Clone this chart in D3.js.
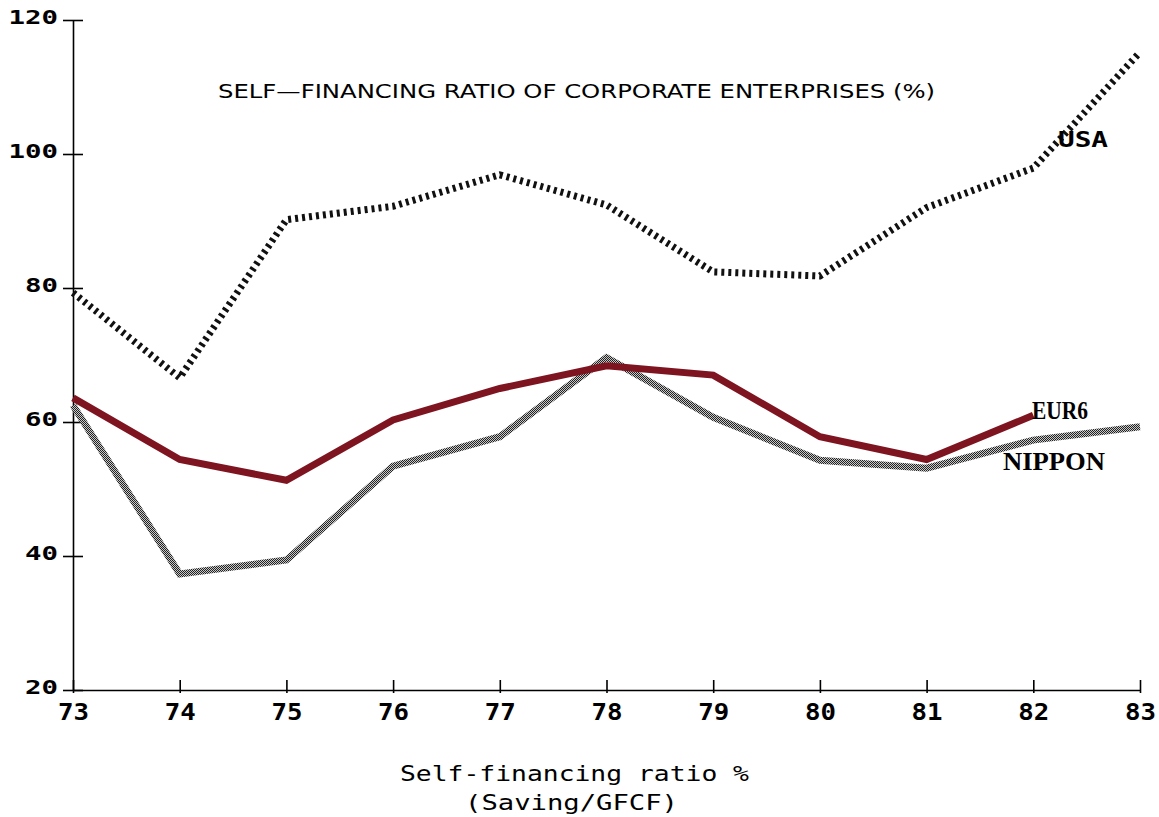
<!DOCTYPE html>
<html>
<head>
<meta charset="utf-8">
<script src="https://cdn.jsdelivr.net/npm/d3@7"></script>
<style>
  body { margin: 0; background: #fff; }
  svg { display: block; }
</style>
</head>
<body>
<div id="chart"></div>
<script>
// years 1973..1983
const years = [73, 74, 75, 76, 77, 78, 79, 80, 81, 82, 83];
const usa = [79.3, 66.6, 90.2, 92.2, 96.9, 92.4, 82.4, 81.8, 92.0, 97.9, 115.2];
const eur6 = [63.6, 54.4, 51.3, 60.3, 65.0, 68.4, 67.0, 57.8, 54.4, 61.0];
const nippon = [62.5, 37.3, 39.4, 53.4, 57.8, 69.6, 60.7, 54.3, 53.1, 57.3, 59.3];
const yTicks = [20, 40, 60, 80, 100, 120];

const W = 1159, H = 817;
const svg = d3.select("#chart").append("svg")
  .attr("width", W)
  .attr("height", H);

// checker texture for the Nippon line
const defs = svg.append("defs");
const pat = defs.append("pattern")
  .attr("id", "checker")
  .attr("width", 2).attr("height", 2)
  .attr("patternUnits", "userSpaceOnUse");
pat.append("rect").attr("width", 2).attr("height", 2).attr("fill", "#c8c8c8");
pat.append("rect").attr("x", 0).attr("y", 0).attr("width", 1).attr("height", 1).attr("fill", "#222");
pat.append("rect").attr("x", 1).attr("y", 1).attr("width", 1).attr("height", 1).attr("fill", "#222");

const x = d3.scaleLinear().domain([73, 83]).range([73, 1140]);
const y = d3.scaleLinear().domain([20, 120]).range([690, 20]);

const mono = "'DejaVu Sans Mono', 'Liberation Mono', monospace";

// y axis
const yAxis = svg.append("g")
  .attr("transform", "translate(" + x(73) + ",0)")
  .call(d3.axisLeft(y).tickValues(yTicks).tickSize(0).tickPadding(15));
yAxis.select(".domain").attr("stroke", "#000").attr("stroke-width", 1.6);
yAxis.selectAll(".tick line").remove();
yAxis.selectAll(".tick").append("line")
  .attr("x1", -10).attr("x2", 10)
  .attr("stroke", "#000").attr("stroke-width", 1.6);
yAxis.selectAll(".tick text")
  .attr("fill", "#000")
  .attr("dy", "0.2em")
  .attr("textLength", d => String(d).length * 16.5)
  .attr("lengthAdjust", "spacingAndGlyphs")
  .style("font-family", mono)
  .style("font-weight", "bold")
  .style("font-size", "19px");

// x axis
const xAxis = svg.append("g")
  .attr("transform", "translate(0," + y(20) + ")")
  .call(d3.axisBottom(x).tickValues(years).tickSize(0).tickPadding(13));
xAxis.select(".domain").attr("stroke", "#000").attr("stroke-width", 1.6);
xAxis.selectAll(".tick line").remove();
xAxis.selectAll(".tick").append("line")
  .attr("y1", -10).attr("y2", 3)
  .attr("stroke", "#000").attr("stroke-width", 1.6);
xAxis.selectAll(".tick text")
  .attr("fill", "#000")
  .attr("dy", "0.75em")
  .attr("textLength", 31)
  .attr("lengthAdjust", "spacingAndGlyphs")
  .style("font-family", mono)
  .style("font-weight", "bold")
  .style("font-size", "23px");

const line = d3.line()
  .x((d, i) => x(years[i]))
  .y(d => y(d));

svg.append("path")
  .datum(nippon)
  .attr("d", line)
  .attr("fill", "none")
  .attr("stroke", "url(#checker)")
  .attr("stroke-width", 7);

svg.append("path")
  .datum(eur6)
  .attr("d", line)
  .attr("fill", "none")
  .attr("stroke", "#7e1420")
  .attr("stroke-width", 7);

svg.append("path")
  .datum(usa)
  .attr("d", line)
  .attr("fill", "none")
  .attr("stroke", "#111")
  .attr("stroke-width", 7)
  .attr("stroke-dasharray", "3 4");

// series labels
svg.append("text")
  .attr("x", 1058).attr("y", 147)
  .attr("textLength", 50)
  .attr("lengthAdjust", "spacingAndGlyphs")
  .style("font-family", mono)
  .style("font-weight", "bold")
  .style("font-size", "21px")
  .text("USA");
svg.append("text")
  .attr("x", 1032).attr("y", 419)
  .attr("textLength", 56)
  .attr("lengthAdjust", "spacingAndGlyphs")
  .style("font-family", "'Liberation Serif', serif")
  .style("font-weight", "bold")
  .style("font-size", "25px")
  .text("EUR6");
svg.append("text")
  .attr("x", 1003).attr("y", 470)
  .attr("textLength", 102)
  .attr("lengthAdjust", "spacingAndGlyphs")
  .style("font-family", "'Liberation Serif', serif")
  .style("font-weight", "bold")
  .style("font-size", "25px")
  .text("NIPPON");

// titles
svg.append("text")
  .attr("x", 218).attr("y", 98)
  .attr("textLength", 717)
  .attr("lengthAdjust", "spacingAndGlyphs")
  .style("font-family", "'DejaVu Sans', sans-serif")
  .style("font-size", "20px")
  .text("SELF\u2014FINANCING RATIO OF CORPORATE ENTERPRISES (%)");

svg.append("text")
  .attr("x", 400).attr("y", 781)
  .attr("textLength", 349)
  .attr("lengthAdjust", "spacingAndGlyphs")
  .style("font-family", mono)
  .style("font-size", "22px")
  .text("Self-financing ratio %");
svg.append("text")
  .attr("x", 465).attr("y", 810)
  .attr("textLength", 213)
  .attr("lengthAdjust", "spacingAndGlyphs")
  .style("font-family", mono)
  .style("font-size", "22px")
  .text("(Saving/GFCF)");
</script>
</body>
</html>
